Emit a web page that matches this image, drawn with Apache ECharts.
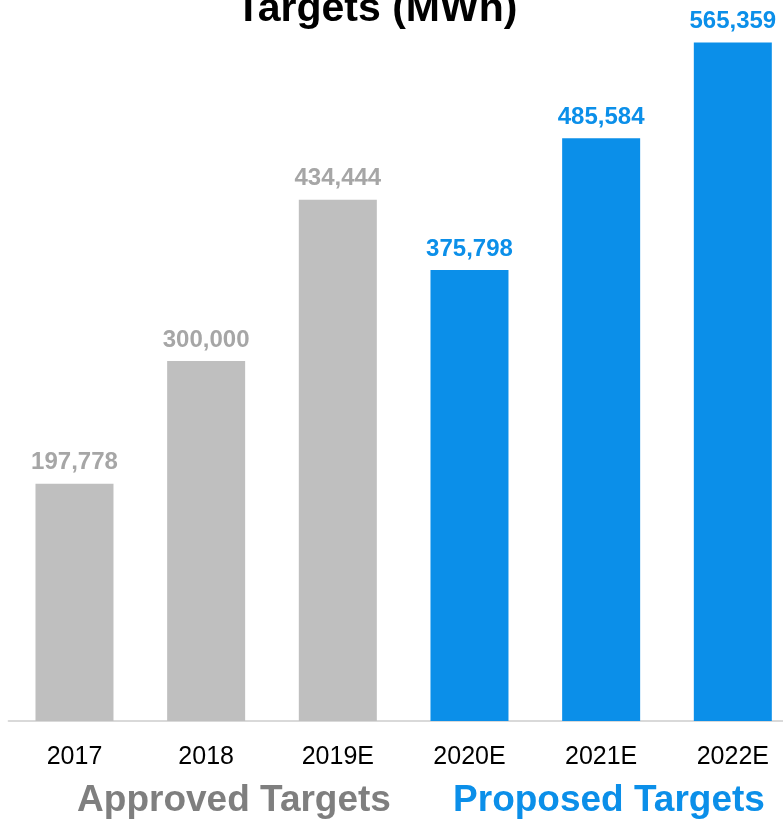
<!DOCTYPE html>
<html>
<head>
<meta charset="utf-8">
<script src="https://cdn.jsdelivr.net/npm/echarts@6/dist/echarts.min.js"></script>
<style>
  html, body { margin: 0; padding: 0; background: #ffffff; }
  #chart { width: 783px; height: 825px; }
</style>
</head>
<body>
<div id="chart"></div>
<script>
// Annual energy savings targets (MWh)
const categories = ['2017', '2018', '2019E', '2020E', '2021E', '2022E'];
const targets = [197778, 300000, 434444, 375798, 485584, 565359];
// 'approved' or 'proposed' for each year
const groups = ['approved', 'approved', 'approved', 'proposed', 'proposed', 'proposed'];
const groupTitles = ['Approved Targets', 'Proposed Targets'];
const chartTitle = 'Targets (MWh)';

const FONT = '"Liberation Sans", Arial, sans-serif';
const palette = {
  approved: { bar: '#bfbfbf', label: '#a6a6a6', title: '#7f7f7f' },
  proposed: { bar: '#0b8fe9', label: '#0b8fe9', title: '#0b8fe9' }
};

const barData = targets.map((v, i) => ({
  value: v,
  itemStyle: { color: palette[groups[i]].bar },
  label: { color: palette[groups[i]].label }
}));

const chart = echarts.init(document.getElementById('chart'), null, { renderer: 'canvas' });
chart.setOption({
  animation: false,
  backgroundColor: '#ffffff',
  grid: {
    left: 8.65, top: 1, width: 790, bottom: 104,
    containLabel: false,
    outerBoundsMode: 'none'
  },
  xAxis: {
    type: 'category',
    data: categories,
    axisLine: { show: true, lineStyle: { color: '#d9d9d9', width: 2 } },
    axisTick: { show: false },
    axisLabel: {
      color: '#000000',
      fontFamily: FONT,
      fontSize: 25,
      margin: 24
    }
  },
  yAxis: {
    type: 'value',
    min: 0,
    max: 600000,
    show: false,
    splitLine: { show: false }
  },
  series: [{
    type: 'bar',
    data: barData,
    barWidth: 78,
    label: {
      show: true,
      position: 'top',
      distance: 9,
      fontFamily: FONT,
      fontSize: 24,
      fontWeight: 'bold',
      formatter: p => p.value.toLocaleString('en-US')
    }
  }],
  graphic: [
    {
      type: 'text',
      style: {
        text: chartTitle,
        x: 376.5,
        y: 10,
        align: 'center',
        verticalAlign: 'middle',
        fill: '#000000',
        font: 'bold 41px ' + FONT
      }
    },
    {
      type: 'text',
      style: {
        text: groupTitles[0],
        x: 234,
        y: 800.5,
        align: 'center',
        verticalAlign: 'middle',
        fill: palette.approved.title,
        font: 'bold 37px ' + FONT
      }
    },
    {
      type: 'text',
      style: {
        text: groupTitles[1],
        x: 609,
        y: 800.5,
        align: 'center',
        verticalAlign: 'middle',
        fill: palette.proposed.title,
        font: 'bold 37px ' + FONT
      }
    }
  ]
});
</script>
</body>
</html>
